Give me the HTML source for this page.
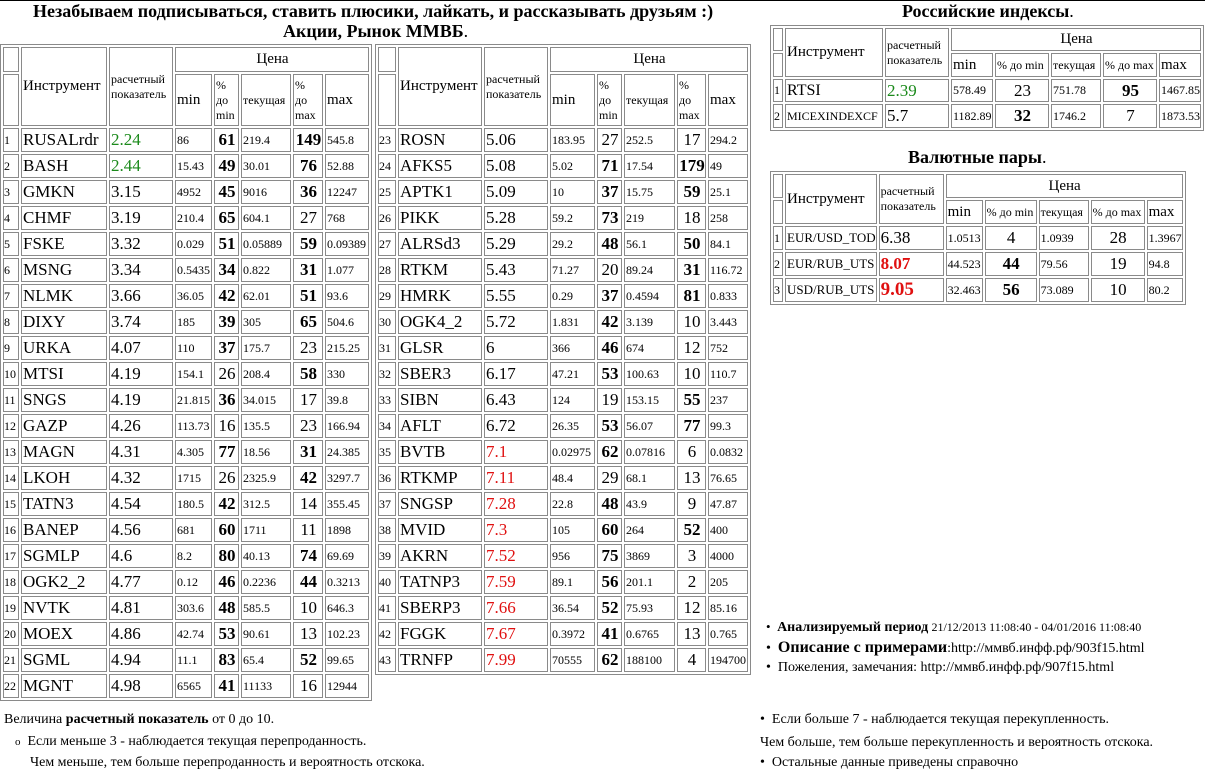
<!DOCTYPE html>
<html><head><meta charset="utf-8"><style>
body{margin:0;width:1205px;height:766px;overflow:hidden;background:#fff;font-family:"Liberation Serif","DejaVu Serif",serif;color:#000;position:relative}
.t{position:absolute;border:1px solid #8a8a8a;border-spacing:2px;border-collapse:separate;table-layout:fixed}
.t td{border:1px solid #8a8a8a;padding:0 0 0 1px;box-sizing:border-box;white-space:nowrap;overflow:hidden;font-size:16px;vertical-align:middle}
.t tr.d td{height:24px}
td.n{font-size:12px;padding:0}
td.i{font-size:17px}
td.c{font-size:17px}
td.s{font-size:12px}
td.p{font-size:17px;text-align:center}
td.b{font-weight:bold}
td.h{font-size:12px;line-height:15px}
td.hh{font-size:15px}
td.ce{text-align:center;font-size:15px}
.g{color:#1b8a1b}.r{color:#e01010}
.a{position:absolute;white-space:nowrap}
</style></head><body>
<div style="position:absolute;left:0;top:0;width:1205px;height:1px;background:#000"></div>
<div class="a" style="left:33px;top:1px;font-size:18px;font-weight:bold">Незабываем подписываться, ставить плюсики, лайкать, и рассказывать друзьям :)</div>
<div class="a" style="left:283px;top:21px;font-size:18px"><b>Акции, Рынок ММВБ</b>.</div>
<div class="a" style="left:902px;top:1px;font-size:18px"><b>Российские индексы</b>.</div>
<div class="a" style="left:908px;top:147px;font-size:18px"><b>Валютные пары</b>.</div>

<table class="t" style="left:0;top:44px">
<colgroup><col style="width:16px"><col style="width:86px"><col style="width:64px"><col style="width:37px"><col style="width:25px"><col style="width:50px"><col style="width:30px"><col style="width:44px"></colgroup>
<tr style="height:25px"><td></td><td rowspan="2" class="hh">Инструмент</td><td rowspan="2" class="h">расчетный<br>показатель</td><td colspan="5" class="ce">Цена</td></tr>
<tr style="height:52px"><td></td><td class="hh">min</td><td class="h">%<br>до<br>min</td><td class="h">текущая</td><td class="h">%<br>до<br>max</td><td class="hh">max</td></tr>
<tr class="d"><td class="n">1</td><td class="i">RUSALrdr</td><td class="c g">2.24</td><td class="s">86</td><td class="p b">61</td><td class="s">219.4</td><td class="p b">149</td><td class="s">545.8</td></tr>
<tr class="d"><td class="n">2</td><td class="i">BASH</td><td class="c g">2.44</td><td class="s">15.43</td><td class="p b">49</td><td class="s">30.01</td><td class="p b">76</td><td class="s">52.88</td></tr>
<tr class="d"><td class="n">3</td><td class="i">GMKN</td><td class="c">3.15</td><td class="s">4952</td><td class="p b">45</td><td class="s">9016</td><td class="p b">36</td><td class="s">12247</td></tr>
<tr class="d"><td class="n">4</td><td class="i">CHMF</td><td class="c">3.19</td><td class="s">210.4</td><td class="p b">65</td><td class="s">604.1</td><td class="p">27</td><td class="s">768</td></tr>
<tr class="d"><td class="n">5</td><td class="i">FSKE</td><td class="c">3.32</td><td class="s">0.029</td><td class="p b">51</td><td class="s">0.05889</td><td class="p b">59</td><td class="s">0.09389</td></tr>
<tr class="d"><td class="n">6</td><td class="i">MSNG</td><td class="c">3.34</td><td class="s">0.5435</td><td class="p b">34</td><td class="s">0.822</td><td class="p b">31</td><td class="s">1.077</td></tr>
<tr class="d"><td class="n">7</td><td class="i">NLMK</td><td class="c">3.66</td><td class="s">36.05</td><td class="p b">42</td><td class="s">62.01</td><td class="p b">51</td><td class="s">93.6</td></tr>
<tr class="d"><td class="n">8</td><td class="i">DIXY</td><td class="c">3.74</td><td class="s">185</td><td class="p b">39</td><td class="s">305</td><td class="p b">65</td><td class="s">504.6</td></tr>
<tr class="d"><td class="n">9</td><td class="i">URKA</td><td class="c">4.07</td><td class="s">110</td><td class="p b">37</td><td class="s">175.7</td><td class="p">23</td><td class="s">215.25</td></tr>
<tr class="d"><td class="n">10</td><td class="i">MTSI</td><td class="c">4.19</td><td class="s">154.1</td><td class="p">26</td><td class="s">208.4</td><td class="p b">58</td><td class="s">330</td></tr>
<tr class="d"><td class="n">11</td><td class="i">SNGS</td><td class="c">4.19</td><td class="s">21.815</td><td class="p b">36</td><td class="s">34.015</td><td class="p">17</td><td class="s">39.8</td></tr>
<tr class="d"><td class="n">12</td><td class="i">GAZP</td><td class="c">4.26</td><td class="s">113.73</td><td class="p">16</td><td class="s">135.5</td><td class="p">23</td><td class="s">166.94</td></tr>
<tr class="d"><td class="n">13</td><td class="i">MAGN</td><td class="c">4.31</td><td class="s">4.305</td><td class="p b">77</td><td class="s">18.56</td><td class="p b">31</td><td class="s">24.385</td></tr>
<tr class="d"><td class="n">14</td><td class="i">LKOH</td><td class="c">4.32</td><td class="s">1715</td><td class="p">26</td><td class="s">2325.9</td><td class="p b">42</td><td class="s">3297.7</td></tr>
<tr class="d"><td class="n">15</td><td class="i">TATN3</td><td class="c">4.54</td><td class="s">180.5</td><td class="p b">42</td><td class="s">312.5</td><td class="p">14</td><td class="s">355.45</td></tr>
<tr class="d"><td class="n">16</td><td class="i">BANEP</td><td class="c">4.56</td><td class="s">681</td><td class="p b">60</td><td class="s">1711</td><td class="p">11</td><td class="s">1898</td></tr>
<tr class="d"><td class="n">17</td><td class="i">SGMLP</td><td class="c">4.6</td><td class="s">8.2</td><td class="p b">80</td><td class="s">40.13</td><td class="p b">74</td><td class="s">69.69</td></tr>
<tr class="d"><td class="n">18</td><td class="i">OGK2_2</td><td class="c">4.77</td><td class="s">0.12</td><td class="p b">46</td><td class="s">0.2236</td><td class="p b">44</td><td class="s">0.3213</td></tr>
<tr class="d"><td class="n">19</td><td class="i">NVTK</td><td class="c">4.81</td><td class="s">303.6</td><td class="p b">48</td><td class="s">585.5</td><td class="p">10</td><td class="s">646.3</td></tr>
<tr class="d"><td class="n">20</td><td class="i">MOEX</td><td class="c">4.86</td><td class="s">42.74</td><td class="p b">53</td><td class="s">90.61</td><td class="p">13</td><td class="s">102.23</td></tr>
<tr class="d"><td class="n">21</td><td class="i">SGML</td><td class="c">4.94</td><td class="s">11.1</td><td class="p b">83</td><td class="s">65.4</td><td class="p b">52</td><td class="s">99.65</td></tr>
<tr class="d"><td class="n">22</td><td class="i">MGNT</td><td class="c">4.98</td><td class="s">6565</td><td class="p b">41</td><td class="s">11133</td><td class="p">16</td><td class="s">12944</td></tr>
</table>

<table class="t" style="left:375px;top:44px">
<colgroup><col style="width:18px"><col style="width:84px"><col style="width:64px"><col style="width:45px"><col style="width:25px"><col style="width:51px"><col style="width:29px"><col style="width:40px"></colgroup>
<tr style="height:25px"><td></td><td rowspan="2" class="hh">Инструмент</td><td rowspan="2" class="h">расчетный<br>показатель</td><td colspan="5" class="ce">Цена</td></tr>
<tr style="height:52px"><td></td><td class="hh">min</td><td class="h">%<br>до<br>min</td><td class="h">текущая</td><td class="h">%<br>до<br>max</td><td class="hh">max</td></tr>
<tr class="d"><td class="n">23</td><td class="i">ROSN</td><td class="c">5.06</td><td class="s">183.95</td><td class="p">27</td><td class="s">252.5</td><td class="p">17</td><td class="s">294.2</td></tr>
<tr class="d"><td class="n">24</td><td class="i">AFKS5</td><td class="c">5.08</td><td class="s">5.02</td><td class="p b">71</td><td class="s">17.54</td><td class="p b">179</td><td class="s">49</td></tr>
<tr class="d"><td class="n">25</td><td class="i">APTK1</td><td class="c">5.09</td><td class="s">10</td><td class="p b">37</td><td class="s">15.75</td><td class="p b">59</td><td class="s">25.1</td></tr>
<tr class="d"><td class="n">26</td><td class="i">PIKK</td><td class="c">5.28</td><td class="s">59.2</td><td class="p b">73</td><td class="s">219</td><td class="p">18</td><td class="s">258</td></tr>
<tr class="d"><td class="n">27</td><td class="i">ALRSd3</td><td class="c">5.29</td><td class="s">29.2</td><td class="p b">48</td><td class="s">56.1</td><td class="p b">50</td><td class="s">84.1</td></tr>
<tr class="d"><td class="n">28</td><td class="i">RTKM</td><td class="c">5.43</td><td class="s">71.27</td><td class="p">20</td><td class="s">89.24</td><td class="p b">31</td><td class="s">116.72</td></tr>
<tr class="d"><td class="n">29</td><td class="i">HMRK</td><td class="c">5.55</td><td class="s">0.29</td><td class="p b">37</td><td class="s">0.4594</td><td class="p b">81</td><td class="s">0.833</td></tr>
<tr class="d"><td class="n">30</td><td class="i">OGK4_2</td><td class="c">5.72</td><td class="s">1.831</td><td class="p b">42</td><td class="s">3.139</td><td class="p">10</td><td class="s">3.443</td></tr>
<tr class="d"><td class="n">31</td><td class="i">GLSR</td><td class="c">6</td><td class="s">366</td><td class="p b">46</td><td class="s">674</td><td class="p">12</td><td class="s">752</td></tr>
<tr class="d"><td class="n">32</td><td class="i">SBER3</td><td class="c">6.17</td><td class="s">47.21</td><td class="p b">53</td><td class="s">100.63</td><td class="p">10</td><td class="s">110.7</td></tr>
<tr class="d"><td class="n">33</td><td class="i">SIBN</td><td class="c">6.43</td><td class="s">124</td><td class="p">19</td><td class="s">153.15</td><td class="p b">55</td><td class="s">237</td></tr>
<tr class="d"><td class="n">34</td><td class="i">AFLT</td><td class="c">6.72</td><td class="s">26.35</td><td class="p b">53</td><td class="s">56.07</td><td class="p b">77</td><td class="s">99.3</td></tr>
<tr class="d"><td class="n">35</td><td class="i">BVTB</td><td class="c r">7.1</td><td class="s">0.02975</td><td class="p b">62</td><td class="s">0.07816</td><td class="p">6</td><td class="s">0.0832</td></tr>
<tr class="d"><td class="n">36</td><td class="i">RTKMP</td><td class="c r">7.11</td><td class="s">48.4</td><td class="p">29</td><td class="s">68.1</td><td class="p">13</td><td class="s">76.65</td></tr>
<tr class="d"><td class="n">37</td><td class="i">SNGSP</td><td class="c r">7.28</td><td class="s">22.8</td><td class="p b">48</td><td class="s">43.9</td><td class="p">9</td><td class="s">47.87</td></tr>
<tr class="d"><td class="n">38</td><td class="i">MVID</td><td class="c r">7.3</td><td class="s">105</td><td class="p b">60</td><td class="s">264</td><td class="p b">52</td><td class="s">400</td></tr>
<tr class="d"><td class="n">39</td><td class="i">AKRN</td><td class="c r">7.52</td><td class="s">956</td><td class="p b">75</td><td class="s">3869</td><td class="p">3</td><td class="s">4000</td></tr>
<tr class="d"><td class="n">40</td><td class="i">TATNP3</td><td class="c r">7.59</td><td class="s">89.1</td><td class="p b">56</td><td class="s">201.1</td><td class="p">2</td><td class="s">205</td></tr>
<tr class="d"><td class="n">41</td><td class="i">SBERP3</td><td class="c r">7.66</td><td class="s">36.54</td><td class="p b">52</td><td class="s">75.93</td><td class="p">12</td><td class="s">85.16</td></tr>
<tr class="d"><td class="n">42</td><td class="i">FGGK</td><td class="c r">7.67</td><td class="s">0.3972</td><td class="p b">41</td><td class="s">0.6765</td><td class="p">13</td><td class="s">0.765</td></tr>
<tr class="d"><td class="n">43</td><td class="i">TRNFP</td><td class="c r">7.99</td><td class="s">70555</td><td class="p b">62</td><td class="s">188100</td><td class="p">4</td><td class="s">194700</td></tr>
</table>

<table class="t" style="left:770px;top:25px">
<colgroup><col style="width:10px"><col style="width:98px"><col style="width:64px"><col style="width:42px"><col style="width:54px"><col style="width:50px"><col style="width:54px"><col style="width:39px"></colgroup>
<tr style="height:23px"><td></td><td rowspan="2" class="hh">Инструмент</td><td rowspan="2" class="h">расчетный<br>показатель</td><td colspan="5" class="ce">Цена</td></tr>
<tr style="height:24px"><td></td><td class="hh">min</td><td class="h">% до min</td><td class="h">текущая</td><td class="h">% до max</td><td class="hh">max</td></tr>
<tr style="height:23px"><td class="n">1</td><td style="font-size:16px">RTSI</td><td class="c g">2.39</td><td class="s">578.49</td><td class="p">23</td><td class="s">751.78</td><td class="p b">95</td><td class="s">1467.85</td></tr>
<tr style="height:24px"><td class="n">2</td><td style="font-size:12px">MICEXINDEXCF</td><td class="c">5.7</td><td class="s">1182.89</td><td class="p b">32</td><td class="s">1746.2</td><td class="p">7</td><td class="s">1873.53</td></tr>
</table>

<table class="t" style="left:770px;top:171px">
<colgroup><col style="width:10px"><col style="width:90px"><col style="width:65px"><col style="width:37px"><col style="width:52px"><col style="width:50px"><col style="width:54px"><col style="width:36px"></colgroup>
<tr style="height:24px"><td></td><td rowspan="2" class="hh">Инструмент</td><td rowspan="2" class="h">расчетный<br>показатель</td><td colspan="5" class="ce">Цена</td></tr>
<tr style="height:24px"><td></td><td class="hh">min</td><td class="h">% до min</td><td class="h">текущая</td><td class="h">% до max</td><td class="hh">max</td></tr>
<tr style="height:24px"><td class="n">1</td><td style="font-size:13px">EUR/USD_TOD</td><td class="c">6.38</td><td class="s">1.0513</td><td class="p">4</td><td class="s">1.0939</td><td class="p">28</td><td class="s">1.3967</td></tr>
<tr style="height:24px"><td class="n">2</td><td style="font-size:13px">EUR/RUB_UTS</td><td class="c r" style="font-weight:bold">8.07</td><td class="s">44.523</td><td class="p b">44</td><td class="s">79.56</td><td class="p">19</td><td class="s">94.8</td></tr>
<tr style="height:24px"><td class="n">3</td><td style="font-size:13px">USD/RUB_UTS</td><td class="c r" style="font-weight:bold;font-size:19px">9.05</td><td class="s">32.463</td><td class="p b">56</td><td class="s">73.089</td><td class="p">10</td><td class="s">80.2</td></tr>
</table>

<div class="a" style="left:766px;top:619px;font-size:13px">•&nbsp; <b style="font-size:14px">Анализируемый период</b> <span style="font-size:12px">21/12/2013 11:08:40 - 04/01/2016 11:08:40</span></div>
<div class="a" style="left:766px;top:639px;font-size:14px">•&nbsp; <b style="font-size:16px">Описание с примерами</b>:http://ммвб.инфф.рф/903f15.html</div>
<div class="a" style="left:766px;top:660px;font-size:14px">•&nbsp; Пожеления, замечания: http://ммвб.инфф.рф/907f15.html</div>
<div class="a" style="left:760px;top:712px;font-size:14px">•&nbsp; Если больше 7 - наблюдается текущая перекупленность.</div>
<div class="a" style="left:760px;top:735px;font-size:14px">Чем больше, тем больше перекупленность и вероятность отскока.</div>
<div class="a" style="left:760px;top:755px;font-size:14px">•&nbsp; Остальные данные приведены справочно</div>

<div class="a" style="left:4px;top:712px;font-size:14px">Величина <b>расчетный показатель</b> от 0 до 10.</div>
<div class="a" style="left:15px;top:734px;font-size:14px"><span style="font-size:11px">o</span>&nbsp; Если меньше 3 - наблюдается текущая перепроданность.</div>
<div class="a" style="left:30px;top:755px;font-size:14px">Чем меньше, тем больше перепроданность и вероятность отскока.</div>
</body></html>
